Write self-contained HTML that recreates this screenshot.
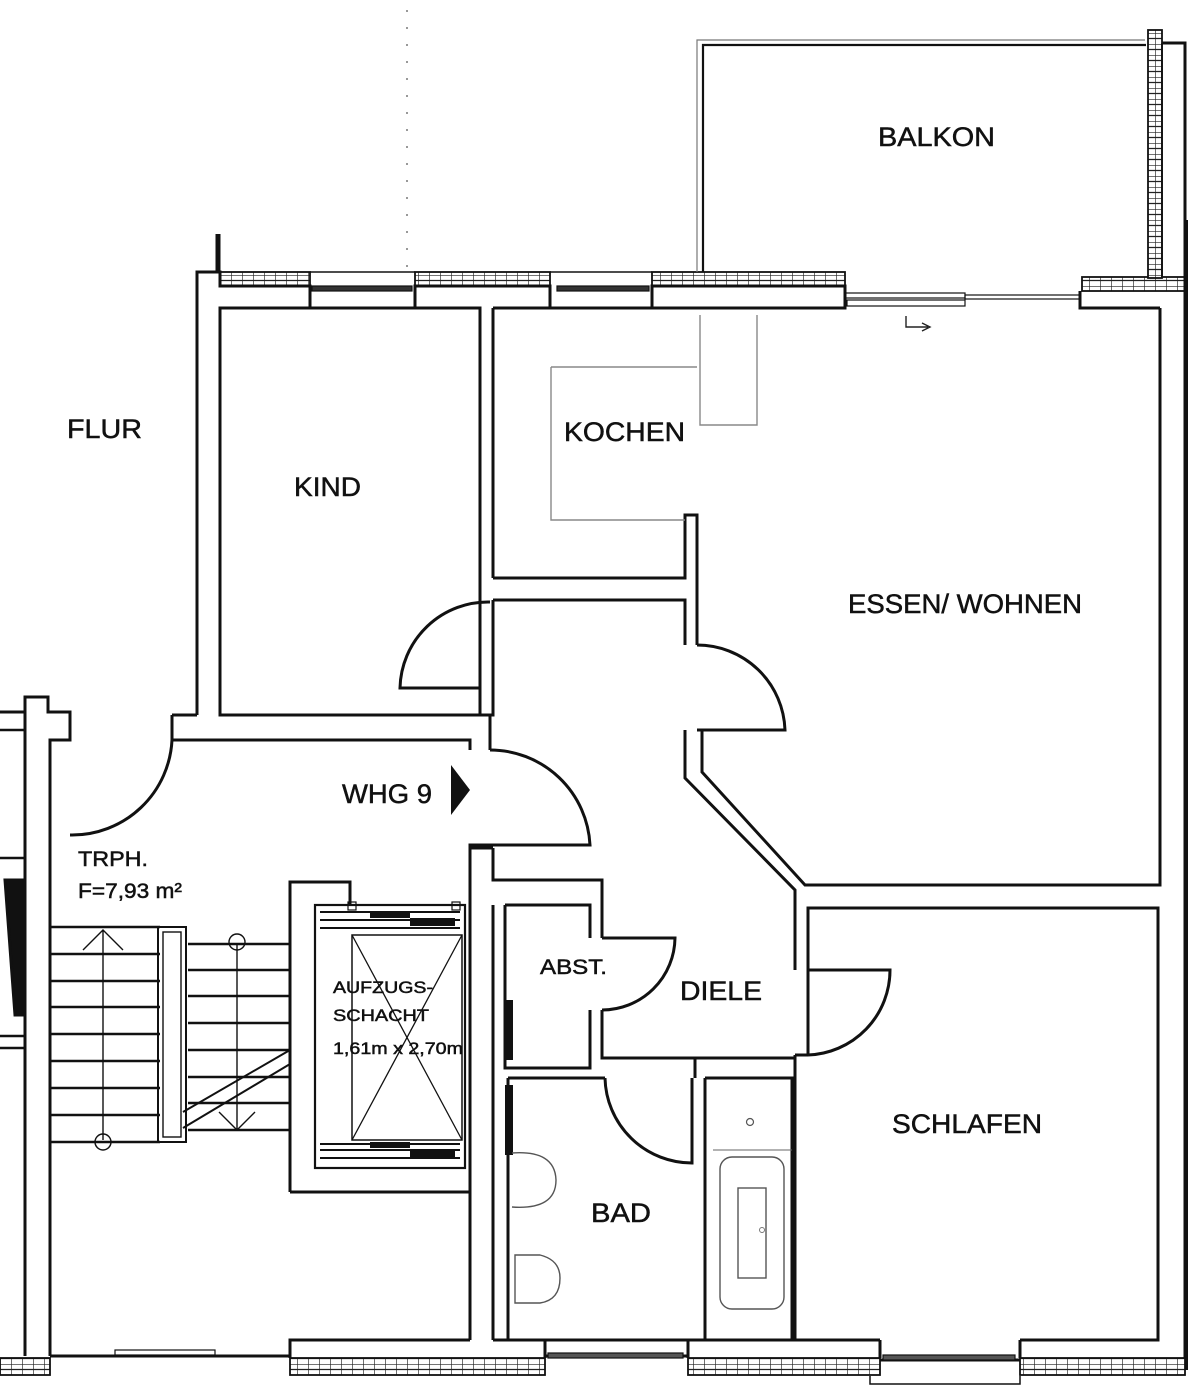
<!DOCTYPE html>
<html><head><meta charset="utf-8"><style>
html,body{margin:0;padding:0;background:#fff}
svg{display:block}
text{font-family:"Liberation Sans",sans-serif;fill:#111;stroke:#111;stroke-width:0.5}
</style></head><body>
<svg width="1200" height="1392" viewBox="0 0 1200 1392" xmlns="http://www.w3.org/2000/svg">
<defs>
<pattern id="h" width="11" height="11" patternUnits="userSpaceOnUse">
<rect width="11" height="11" fill="#fff"/>
<path d="M0,0H11M0,5.5H11M0,0V11" stroke="#222" stroke-width="1.3"/>
</pattern>
</defs>
<rect width="1200" height="1392" fill="#fff"/>
<line x1="407" y1="10" x2="407" y2="270" stroke="#999" stroke-width="2" stroke-dasharray="2,15"/>
<g fill="none" stroke="#111" stroke-width="3" stroke-linejoin="miter">
<line x1="218" y1="234" x2="218" y2="272" stroke-width="5"/>
<rect x="220" y="272" width="90" height="14" fill="url(#h)" stroke-width="1.8"/>
<rect x="415" y="272" width="135" height="14" fill="url(#h)" stroke-width="1.8"/>
<rect x="652" y="272" width="193" height="14" fill="url(#h)" stroke-width="1.8"/>
<rect x="1082" y="277" width="103" height="14" fill="url(#h)" stroke-width="1.8"/>
<rect x="312" y="286" width="100" height="5" fill="#333" stroke-width="1.2"/>
<rect x="557" y="286" width="92" height="5" fill="#333" stroke-width="1.2"/>
<line x1="310" y1="272" x2="415" y2="272" stroke-width="1.5"/>
<line x1="550" y1="272" x2="652" y2="272" stroke-width="1.5"/>
<path d="M197,715 V272 H220 V286 H310 V308 M415,308 V286 H550 V308 M652,308 V286 H845 V308 H493"/>
<line x1="310" y1="308" x2="415" y2="308" stroke-width="1.5"/>
<line x1="550" y1="308" x2="652" y2="308" stroke-width="1.5"/>
<rect x="845" y="293" width="120" height="5" stroke-width="1.2"/>
<rect x="847" y="300" width="118" height="6" stroke-width="1.2"/>
<rect x="965" y="295" width="115" height="4" stroke-width="1.2"/>
<path d="M1080,291 V308 H1160"/>
<path d="M697,272 V40 H1145" stroke-width="1.2" stroke="#777"/>
<path d="M703,272 V45 H1146" stroke-width="2.2"/>
<rect x="1148" y="30" width="14" height="248" fill="url(#h)" stroke-width="1.8"/>
<path d="M1162,43 H1185 V1370"/>
<path d="M1162,43 V277" stroke-width="1.8"/>
<line x1="1186" y1="220" x2="1186" y2="1370" stroke-width="4"/>
<rect x="220" y="308" width="260" height="407"/>
<path d="M172,715 H197 M172,715 V740 H470 V750"/>
<path d="M493,308 V578 M493,600 V715 H490 V750 M480,715 H493"/>
<path d="M493,578 H685 V515 H697 V645"/>
<path d="M493,600 H685 V645"/>
<path d="M551,367 H697 M551,367 V520 H685" stroke="#888" stroke-width="1.4"/>
<path d="M700,315 V425 H757 V315" stroke="#888" stroke-width="1.4"/>
<path d="M1160,308 V885 H805 L702,772 V730"/>
<path d="M685,730 V778 L795,890 V970"/>
<path d="M808,1055 V908 H1158 V1340 H1020"/>
<path d="M697,645 A88,88 0 0 1 785,730 H697"/>
<path d="M490,602 A88,88 0 0 0 400,688 H480"/>
<path d="M172,740 A100,100 0 0 1 72,835 H70"/>
<path d="M490,750 A100,100 0 0 1 590,845 H470 V1340"/>
<path d="M808,970 H890 A85,85 0 0 1 808,1055"/>
<path d="M602,938 H675 A73,73 0 0 1 602,1010"/>
<path d="M605,1078 A87,87 0 0 0 692,1163 V1078"/>
<path d="M795,1055 V1340 H880 M808,1055 H795"/>
<path d="M493,848 V880 H602 V938 M602,1010 V1058 H695 V1078"/>
<path d="M505,905 H590 V938 M590,1010 V1068 H505 V905"/>
<path d="M493,905 V1340 M508,1078 V1340 H695 M508,1078 H605"/>
<path d="M695,1058 H795 M705,1078 V1340 H792 V1078 H705"/>
<rect x="505" y="1000" width="8" height="60" fill="#111" stroke="none"/>
<rect x="505" y="1085" width="8" height="70" fill="#111" stroke="none"/>
<line x1="713" y1="1150" x2="792" y2="1150" stroke-width="1" stroke="#666"/>
<rect x="720" y="1157" width="64" height="152" rx="12" stroke-width="1.4" stroke="#555"/>
<rect x="738" y="1188" width="28" height="90" stroke-width="1.4" stroke="#555"/>
<circle cx="750" cy="1122" r="3.5" stroke-width="1.2" stroke="#555"/>
<circle cx="762" cy="1230" r="2.5" stroke-width="1" stroke="#777"/>
<path d="M512,1153 Q555,1150 556,1180 Q556,1210 512,1207" stroke-width="1.4" stroke="#555"/>
<path d="M515,1255 H540 Q560,1260 560,1278 Q560,1300 540,1303 H515 Z" stroke-width="1.4" stroke="#555"/>
<rect x="290" y="1358" width="255" height="17" fill="url(#h)" stroke-width="1.8"/>
<rect x="688" y="1358" width="192" height="17" fill="url(#h)" stroke-width="1.8"/>
<rect x="1020" y="1358" width="165" height="17" fill="url(#h)" stroke-width="1.8"/>
<rect x="0" y="1358" width="50" height="17" fill="url(#h)" stroke-width="1.8"/>
<path d="M290,1358 V1340 H470 M493,1340 H545 V1358 M688,1358 V1340 H795 M880,1340 V1358 M1020,1358 V1340"/>
<path d="M50,1356 H290 M545,1356 H688 M880,1360 H1020"/>
<rect x="115" y="1350" width="100" height="5" stroke-width="1.2"/>
<rect x="548" y="1353" width="135" height="5" fill="#555" stroke-width="1.2"/>
<rect x="883" y="1355" width="132" height="5" fill="#555" stroke-width="1.2"/>
<path d="M870,1376 V1384 H1020 V1376" stroke-width="1.5"/>
<path d="M0,712 H25 V697 H48 V712 H70 V740 H50 V1356 M25,712 V1356"/>
<path d="M0,730 H25 M0,858 H25 M0,1036 H25 M0,1048 H25" stroke-width="2.4"/>
<path d="M5,880 L22,880 L22,1015 L15,1015 Z" fill="#111"/>
<g stroke-width="2.4">
<line x1="50" y1="927" x2="160" y2="927"/><line x1="50" y1="954" x2="160" y2="954"/>
<line x1="50" y1="981" x2="160" y2="981"/><line x1="50" y1="1007" x2="160" y2="1007"/>
<line x1="50" y1="1034" x2="160" y2="1034"/><line x1="50" y1="1061" x2="160" y2="1061"/>
<line x1="50" y1="1088" x2="160" y2="1088"/><line x1="50" y1="1115" x2="160" y2="1115"/>
<line x1="50" y1="1142" x2="160" y2="1142"/>
<line x1="188" y1="944" x2="290" y2="944"/><line x1="188" y1="970" x2="290" y2="970"/>
<line x1="188" y1="996" x2="290" y2="996"/><line x1="188" y1="1023" x2="290" y2="1023"/>
<line x1="188" y1="1050" x2="290" y2="1050"/><line x1="188" y1="1077" x2="290" y2="1077"/>
<line x1="188" y1="1103" x2="290" y2="1103"/><line x1="188" y1="1130" x2="290" y2="1130"/>
</g>
<rect x="158" y="927" width="28" height="215" stroke-width="2"/>
<rect x="163" y="932" width="18" height="205" stroke-width="1.4"/>
<path d="M183,1112 L290,1050 M183,1128 L290,1064" stroke-width="2"/>
<path d="M103,1140 V930 M83,950 L103,930 L123,950" stroke-width="1.4"/>
<circle cx="103" cy="1142" r="8" stroke-width="1.4"/>
<path d="M237,945 V1130 M219,1112 L237,1130 L255,1112" stroke-width="1.4"/>
<circle cx="237" cy="942" r="8" stroke-width="1.4"/>
<path d="M290,1192 V882 H350 V905 M290,1192 H470"/>
<rect x="315" y="905" width="150" height="263" stroke-width="2.2"/>
<line x1="352" y1="935" x2="462" y2="1140" stroke-width="1.3"/>
<line x1="462" y1="935" x2="352" y2="1140" stroke-width="1.3"/>
<rect x="352" y="935" width="110" height="205" stroke-width="1.5"/>
<g stroke-width="2">
<path d="M320,912 H460 M320,920 H460 M320,928 H460 M320,1150 H460 M320,1158 H460 M320,1144 H460"/>
</g>
<rect x="370" y="912" width="40" height="6" fill="#111" stroke="none"/>
<rect x="410" y="918" width="45" height="8" fill="#111" stroke="none"/>
<rect x="370" y="1142" width="40" height="6" fill="#111" stroke="none"/>
<rect x="410" y="1150" width="45" height="8" fill="#111" stroke="none"/>
<rect x="348" y="902" width="8" height="8" stroke-width="1.2"/>
<rect x="452" y="902" width="8" height="8" stroke-width="1.2"/>
<path d="M470,848 H493"/>
</g>
<path d="M451,765 L470,790 L451,815 Z" fill="#111"/>
<path d="M906,316 V327 H928 M922,323 L930,327 L922,331" fill="none" stroke="#222" stroke-width="1.4"/>
<text x="878" y="146" font-size="27" textLength="117" lengthAdjust="spacingAndGlyphs">BALKON</text>
<text x="67" y="438" font-size="27" textLength="75" lengthAdjust="spacingAndGlyphs">FLUR</text>
<text x="294" y="496" font-size="27" textLength="67" lengthAdjust="spacingAndGlyphs">KIND</text>
<text x="564" y="441" font-size="27" textLength="121" lengthAdjust="spacingAndGlyphs">KOCHEN</text>
<text x="848" y="613" font-size="27" textLength="234" lengthAdjust="spacingAndGlyphs">ESSEN/ WOHNEN</text>
<text x="342" y="803" font-size="27" textLength="90" lengthAdjust="spacingAndGlyphs">WHG 9</text>
<text x="78" y="866" font-size="21" textLength="70" lengthAdjust="spacingAndGlyphs">TRPH.</text>
<text x="78" y="898" font-size="21" textLength="104" lengthAdjust="spacingAndGlyphs" stroke-width="0.2">F=7,93 m²</text>
<text x="333" y="993" font-size="17" textLength="100" lengthAdjust="spacingAndGlyphs">AUFZUGS-</text>
<text x="333" y="1021" font-size="17" textLength="96" lengthAdjust="spacingAndGlyphs">SCHACHT</text>
<text x="333" y="1054" font-size="17" textLength="130" lengthAdjust="spacingAndGlyphs" stroke-width="0.2">1,61m x 2,70m</text>
<text x="540" y="974" font-size="21" textLength="67" lengthAdjust="spacingAndGlyphs">ABST.</text>
<text x="680" y="1000" font-size="27" textLength="82" lengthAdjust="spacingAndGlyphs">DIELE</text>
<text x="892" y="1133" font-size="27" textLength="150" lengthAdjust="spacingAndGlyphs">SCHLAFEN</text>
<text x="591" y="1222" font-size="27" textLength="60" lengthAdjust="spacingAndGlyphs">BAD</text>
</svg>
</body></html>
